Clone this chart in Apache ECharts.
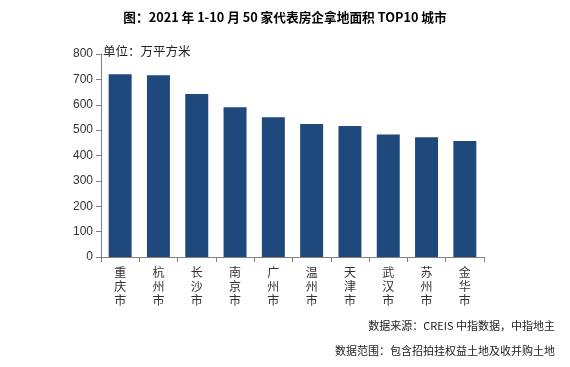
<!DOCTYPE html>
<html><head><meta charset="utf-8">
<script src="https://cdn.jsdelivr.net/npm/echarts@6/dist/echarts.min.js"></script>
<style>html,body{margin:0;padding:0;background:#fff}#c{width:570px;height:367px}</style>
</head><body><div id="c"></div>
<script>
var categories = ['重庆市','杭州市','长沙市','南京市','广州市','温州市','天津市','武汉市','苏州市','金华市'];
var values = [720, 716, 642, 590, 551, 524, 516, 483, 472, 457];
var titleText = '图：2021 年 1-10 月 50 家代表房企拿地面积 TOP10 城市';
var unitText = '单位：万平方米';
var note1 = '数据来源：CREIS 中指数据，中指地主';
var note2 = '数据范围：包含招拍挂权益土地及收并购土地';

var chart = echarts.init(document.getElementById('c'), null, {renderer:'canvas'});
var cjk = '"Noto Sans CJK SC", sans-serif';
chart.setOption({
  animation: false,
  title: {text: titleText, left: 'center', top: 6,
    textStyle: {fontSize: 12.7, fontWeight: 'bold', color: '#000', fontFamily: cjk}},
  graphic: [
    {type:'text', left: 103, top: 45, style:{text: unitText, fontSize: 12.5, fill:'#222', fontFamily: cjk}},
    {type:'text', right: 15, top: 320, style:{text: note1, fontSize: 11, fill:'#222', fontFamily: cjk, textAlign:'right'}},
    {type:'text', right: 15, top: 345, style:{text: note2, fontSize: 11, fill:'#222', fontFamily: cjk, textAlign:'right'}}
  ],
  grid: {left: 101, right: 86, top: 54, bottom: 110, containLabel: false},
  xAxis: {type:'category', data: categories,
    axisLine:{lineStyle:{color:'#808080'}},
    axisTick:{show:true, alignWithLabel:false, length:5, lineStyle:{color:'#808080'}},
    axisLabel:{color:'#333', fontSize:12, fontFamily: cjk, lineHeight:14, margin:8,
      formatter: function(v){return v.split('').join('\n');}}},
  yAxis: {type:'value', min:0, max:800, interval:100,
    axisLine:{show:true, lineStyle:{color:'#808080'}},
    axisTick:{show:true, length:5, lineStyle:{color:'#808080'}},
    splitLine:{show:false},
    axisLabel:{color:'#333', fontSize:12, fontFamily:'Arial, "Liberation Sans", sans-serif', margin:8}},
  series: [{type:'bar', data: values, barWidth:'60%', itemStyle:{color:'#1f497d'}}]
});
</script></body></html>
